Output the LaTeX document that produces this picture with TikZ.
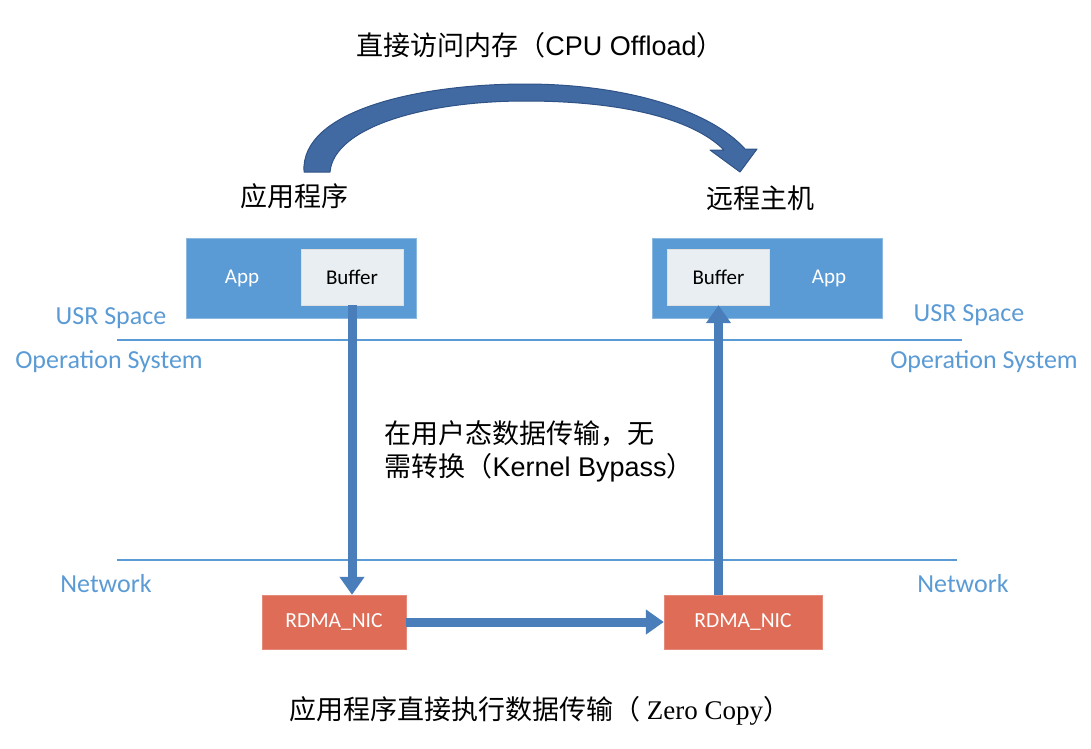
\documentclass[tikz,border=0pt]{standalone}
\usepackage{fontspec}
\setmainfont{Liberation Sans}
\newfontfamily\cjk{Noto Sans CJK SC}
\newfontfamily\calfont{Carlito}
\newfontfamily\timesfont{Liberation Serif}
\usetikzlibrary{arrows.meta}
\definecolor{boxblue}{RGB}{91,155,213}
\definecolor{bufgray}{RGB}{232,238,242}
\definecolor{nicred}{RGB}{222,108,86}
\definecolor{arrblue}{RGB}{74,126,187}
\definecolor{arcblue}{RGB}{66,106,162}
\definecolor{arcedge}{RGB}{47,82,135}
\begin{document}
\begin{tikzpicture}[x=1pt,y=-1pt,
  appbox/.style={fill=boxblue,draw=boxblue!70!white,minimum width=230pt,minimum height=80pt,inner sep=0pt},
  bufbox/.style={fill=bufgray,draw=black!12,minimum width=102pt,minimum height=56pt,inner sep=0pt,font=\calfont\fontsize{21}{24}\selectfont},
  nicbox/.style={fill=nicred,draw=nicred!80!white,minimum height=54pt,inner sep=0pt,text=white,font=\calfont\fontsize{21.5}{24}\selectfont},
  apptext/.style={text=white,font=\calfont\fontsize{21}{24}\selectfont},
  layer/.style={text=boxblue,font=\calfont\fontsize{26}{30}\selectfont},
  cn/.style={font=\cjk\fontsize{27}{33}\selectfont},
  sepline/.style={boxblue,line width=1.5pt},
  flow/.style={line width=9pt,arrblue,-{Triangle[width=24pt,length=18pt]}}]
\useasboundingbox (0,0) rectangle (1091,748);

\node[cn] (title) at (540,45) {直接访问内存（{\rmfamily CPU Offload}）};
\node[cn] (local) at (294,196) {应用程序};
\node[cn] (remote) at (760,198) {远程主机};

% curved arrow
\draw[fill=arcblue,draw=arcedge,line width=1pt,line join=round]
  (304,172) .. controls (300,110) and (420,84) .. (525,84)
  .. controls (630,84) and (712,112) .. (745,149) -- (757,149) -- (740,172) -- (710,150) -- (724,150)
  .. controls (692,118) and (620,101) .. (525,101)
  .. controls (425,101) and (334,127) .. (330,172) -- cycle;

\node[appbox] (appL) at (301,278) {};
\node[bufbox] (bufL) at (352,277) {Buffer};
\node[apptext] (appLtxt) at (242,278) {App};
\node[appbox] (appR) at (767,278) {};
\node[bufbox] (bufR) at (718.5,277) {Buffer};
\node[apptext] (appRtxt) at (829,278) {App};

\draw[sepline] (117,340) -- (962,340);
\draw[sepline] (117,560) -- (957,560);
\node[layer] (usrL) at (111,318) {USR Space};
\node[layer] (osL) at (109,362) {Operation System};
\node[layer] (usrR) at (969,315) {USR Space};
\node[layer] (osR) at (984,362) {Operation System};
\node[layer] (netL) at (106,584) {Network};
\node[layer] (netR) at (963,584) {Network};

\node[nicbox,minimum width=144pt] (nicL) at (334,622) {RDMA\_NIC};
\node[nicbox,minimum width=158pt] (nicR) at (743,622) {RDMA\_NIC};

\draw[flow] (bufL.south) -- (bufL.south |- nicL.north);
\draw[flow] (bufR.south |- nicR.north) -- (bufR.south);
\draw[flow] (nicL.east) -- (nicR.west);

\node[cn,anchor=west,align=left] (bypass) at (381,451) {在用户态数据传输，无\\需转换（{\rmfamily Kernel Bypass}）};
\node[cn] (zerocopy) at (540,711) {应用程序直接执行数据传输（ {\timesfont Zero Copy}）};
\end{tikzpicture}
\end{document}
